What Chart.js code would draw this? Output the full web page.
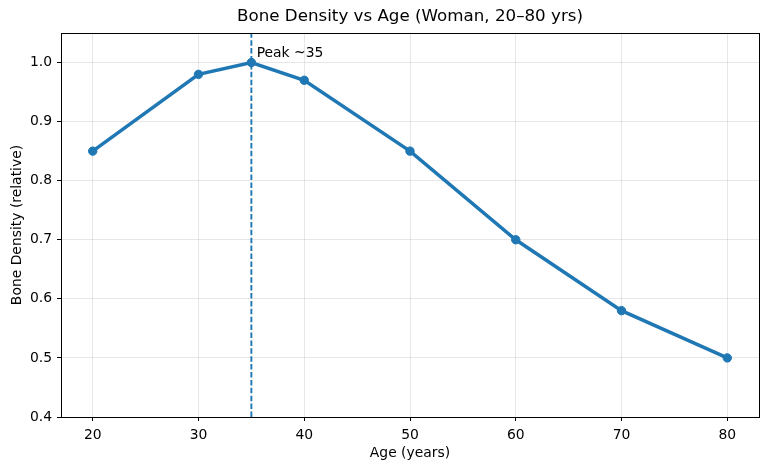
<!DOCTYPE html>
<html>
<head>
<meta charset="utf-8">
<script src="https://cdn.jsdelivr.net/npm/chart.js@4"></script>
<style>
  html, body { margin: 0; padding: 0; background: #fff; }
  #wrap { width: 768px; height: 470px; }
</style>
</head>
<body>
<div id="wrap"><canvas id="boneChart" width="768" height="470"></canvas></div>
<script>
// Dados
const ages = [20, 30, 35, 40, 50, 60, 70, 80];
const density = [0.85, 0.98, 1.0, 0.97, 0.85, 0.70, 0.58, 0.50];
const xTicks = [20, 30, 40, 50, 60, 70, 80];
const yTicks = [0.4, 0.5, 0.6, 0.7, 0.8, 0.9, 1.0];
const peakAge = 35;
const peakLabel = 'Peak ~35';
const chartTitle = 'Bone Density vs Age (Woman, 20\u201380 yrs)';

const blue = '#1f77b4';
const font = 'DejaVu Sans, sans-serif';

// Moldura, linha tracejada do pico e título
const extras = {
    id: 'extras',
    beforeDatasetsDraw(chart) {
        const { ctx, chartArea: a, scales: { x } } = chart;
        const px = x.getPixelForValue(peakAge);
        ctx.save();
        ctx.strokeStyle = blue;
        ctx.lineWidth = 1.9;
        ctx.setLineDash([5.5, 2.4]);
        ctx.beginPath();
        ctx.moveTo(px, a.bottom);
        ctx.lineTo(px, a.top);
        ctx.stroke();
        ctx.restore();
    },
    afterDraw(chart) {
        const { ctx, chartArea: a, scales: { x, y } } = chart;
        ctx.save();
        ctx.strokeStyle = '#000';
        ctx.lineWidth = 1;
        ctx.strokeRect(Math.round(a.left) + 0.5, Math.round(a.top) + 0.5,
            Math.round(a.right - a.left), Math.round(a.bottom - a.top));
        ctx.fillStyle = '#000';
        ctx.font = '13.9px ' + font;
        ctx.textAlign = 'left';
        ctx.textBaseline = 'alphabetic';
        ctx.fillText(peakLabel, x.getPixelForValue(peakAge + 0.5), y.getPixelForValue(1.01));
        ctx.font = '16.7px ' + font;
        ctx.textAlign = 'center';
        ctx.textBaseline = 'middle';
        ctx.fillText(chartTitle, (a.left + a.right) / 2, 17);
        ctx.restore();
    }
};

new Chart(document.getElementById('boneChart'), {
    type: 'line',
    data: {
        datasets: [{
            data: ages.map((a, i) => ({ x: a, y: density[i] })),
            borderColor: blue,
            backgroundColor: blue,
            borderWidth: 3.5,
            pointRadius: 4.2,
            pointBorderWidth: 1,
            pointBackgroundColor: blue,
            pointBorderColor: blue,
            fill: false,
            tension: 0
        }]
    },
    options: {
        responsive: false,
        animation: false,
        layout: { padding: { top: 33, right: 9, left: 0, bottom: 0 } },
        plugins: { legend: { display: false }, tooltip: { enabled: false } },
        scales: {
            x: {
                type: 'linear',
                min: 17,
                max: 83,
                afterBuildTicks: s => { s.ticks = xTicks.map(v => ({ value: v })); },
                afterFit: s => { s.height = 53; },
                grid: { color: 'rgba(176,176,176,0.3)', tickColor: '#000', tickLength: 4 },
                border: { color: '#000', width: 1 },
                ticks: { color: '#000', font: { family: font, size: 13.9 }, padding: 6, maxRotation: 0 },
                title: { display: true, text: 'Age (years)', color: '#000',
                         font: { family: font, size: 13.9 }, padding: { top: 0, bottom: 8.5 } }
            },
            y: {
                min: 0.4,
                max: 1.05,
                afterBuildTicks: s => { s.ticks = yTicks.map(v => ({ value: v })); },
                afterFit: s => { s.width = 61; },
                grid: { color: 'rgba(176,176,176,0.3)', tickColor: '#000', tickLength: 4 },
                border: { color: '#000', width: 1 },
                ticks: { color: '#000', font: { family: font, size: 13.9 }, padding: 5,
                         callback: v => v.toFixed(1) },
                title: { display: true, text: 'Bone Density (relative)', color: '#000',
                         font: { family: font, size: 13.9 }, padding: { top: 9, bottom: 0 } }
            }
        }
    },
    plugins: [extras]
});
</script>
</body>
</html>
